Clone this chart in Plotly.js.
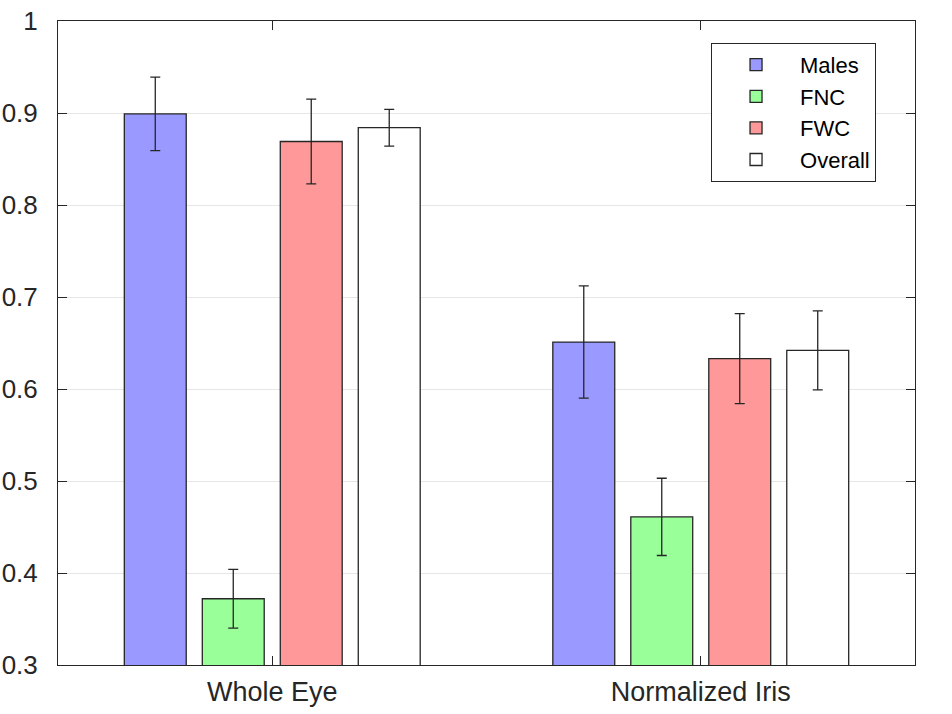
<!DOCTYPE html>
<html>
<head>
<meta charset="utf-8">
<script src="https://cdn.plot.ly/plotly-3.0.1.min.js"></script>
<style>
  html, body { margin: 0; padding: 0; background: #fff; }
  #myDiv { width: 952px; height: 714px; }
</style>
</head>
<body>
<div id="myDiv"></div>
<script>
// data
var categories = ['Whole Eye', 'Normalized Iris'];
var seriesNames = ['Males', 'FNC', 'FWC', 'Overall'];
var males = [0.899, 0.651];
var fnc = [0.372, 0.461];
var fwc = [0.869, 0.633];
var overall = [0.884, 0.642];
var malesErr = [0.040, 0.061];
var fncErr = [0.032, 0.042];
var fwcErr = [0.046, 0.049];
var overallErr = [0.020, 0.043];
var yTicks = [0.3, 0.4, 0.5, 0.6, 0.7, 0.8, 0.9, 1];
var yTickText = ['0.3', '0.4', '0.5', '0.6', '0.7', '0.8', '0.9', '1'];

var colors = ['#9999ff', '#99ff99', '#ff9999', '#ffffff'];
var values = [males, fnc, fwc, overall];
var errors = [malesErr, fncErr, fwcErr, overallErr];

var data = [];
for (var i = 0; i < seriesNames.length; i++) {
  data.push({
    type: 'bar',
    name: seriesNames[i],
    x: categories,
    y: values[i],
    base: 0,
    marker: { color: colors[i], line: { color: '#262626', width: 1.3 } },
    error_y: {
      type: 'data',
      array: errors[i],
      visible: true,
      color: '#262626',
      thickness: 1.3,
      width: 5
    }
  });
}

var layout = {
  width: 952,
  height: 714,
  margin: { l: 58, r: 37, t: 21, b: 49 },
  paper_bgcolor: '#ffffff',
  plot_bgcolor: '#ffffff',
  barmode: 'group',
  bargap: 0.272,
  bargroupgap: 0.206,
  showlegend: true,
  font: { family: 'Liberation Sans, Arial, sans-serif', color: '#262626', size: 22 },
  xaxis: {
    type: 'category',
    range: [-0.5, 1.5],
    showline: true,
    linecolor: '#262626',
    linewidth: 1,
    mirror: 'ticks',
    ticks: 'inside',
    ticklen: 9,
    tickwidth: 1,
    tickcolor: '#262626',
    showgrid: false,
    tickfont: { size: 27, color: '#262626' },
    ticklabelstandoff: 3,
    zeroline: false
  },
  yaxis: {
    range: [0.3, 1],
    tickvals: yTicks,
    ticktext: yTickText,
    showline: true,
    linecolor: '#262626',
    linewidth: 1,
    mirror: 'ticks',
    ticks: 'inside',
    ticklen: 9,
    tickwidth: 1,
    tickcolor: '#262626',
    showgrid: true,
    gridcolor: '#e6e6e6',
    gridwidth: 1,
    zeroline: false,
    tickfont: { size: 26, color: '#262626' },
    ticklabelstandoff: 14
  },
  legend: {
    x: 0.762,
    y: 0.966,
    xanchor: 'left',
    yanchor: 'top',
    bgcolor: '#ffffff',
    bordercolor: '#262626',
    borderwidth: 1,
    font: { size: 22, color: '#000000' },
    itemwidth: 78,
    tracegroupgap: 0
  }
};

Plotly.newPlot('myDiv', data, layout, { displayModeBar: false, staticPlot: true });
</script>
</body>
</html>
